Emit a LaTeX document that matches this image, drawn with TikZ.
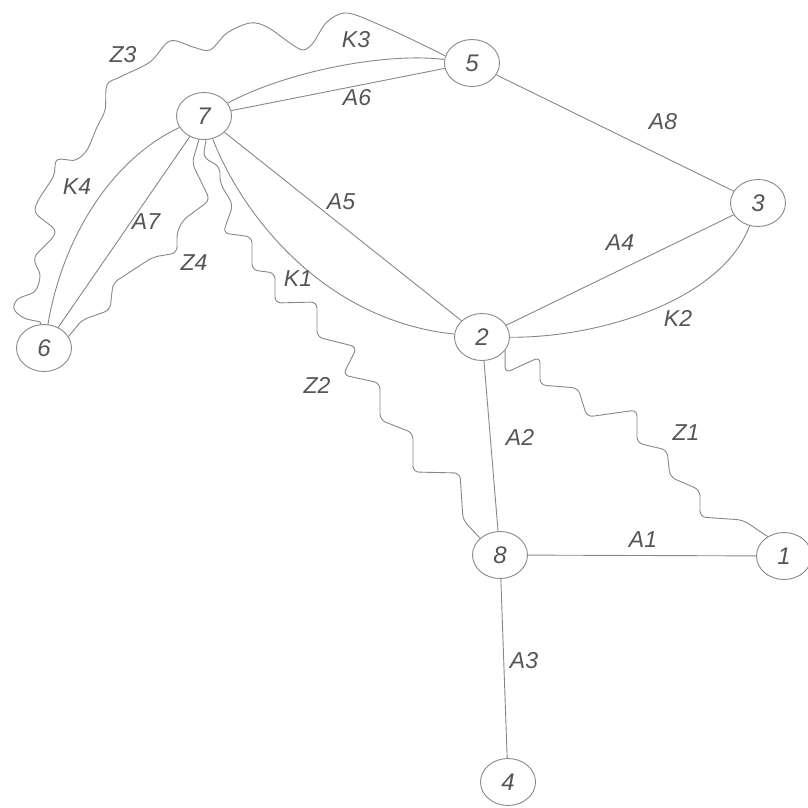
\documentclass[tikz,border=0pt]{standalone}
\usepackage{fontspec}
\setmainfont{Liberation Sans}
\usetikzlibrary{shapes.geometric}
\definecolor{ink}{RGB}{135,135,135}
\definecolor{txt}{RGB}{85,85,85}
\begin{document}
\begin{tikzpicture}[x=1pt,y=-1pt,
  vert/.style={draw=ink,line width=0.9pt,ellipse,minimum width=55pt,minimum height=47pt,inner sep=0pt,
    font=\fontsize{24}{24}\selectfont\itshape,text=txt},
  lbl/.style={font=\fontsize{23}{23}\selectfont\itshape,text=txt,inner sep=0pt},
  wire/.style={draw=ink,line width=0.9pt},
  zig/.style={wire,rounded corners=6pt}]
\useasboundingbox (0,0) rectangle (807,808);

% vertices
\node[vert] (n1) at (784,556) {1};
\node[vert] (n2) at (482,337) {2};
\node[vert] (n3) at (758,203) {3};
\node[vert] (n4) at (508,782) {4};
\node[vert] (n5) at (472,63) {5};
\node[vert] (n6) at (44,348) {6};
\node[vert] (n7) at (204,116) {7};
\node[vert] (n8) at (500,555) {8};

% straight branches
\draw[wire] (n8) -- (n1);
\draw[wire] (n2) -- (n8);
\draw[wire] (n8) -- (n4);
\draw[wire] (n2) -- (n3);
\draw[wire] (n7) -- (n2);
\draw[wire] (n7) -- (n5);
\draw[wire] (n7) -- (n6);
\draw[wire] (n5) -- (n3);

% curved branches
\draw[wire] (n7) .. controls (285,72) and (385,52) .. (n5);
\draw[wire] (n7) .. controls (110,160) and (62,240) .. (n6);
\draw[wire] (n7) .. controls (240,210) and (320,320) .. (n2);
\draw[wire] (n2) .. controls (600,338) and (722,300) .. (n3);

% wavy branches
\draw[zig] (n2.330) -- (505,373) -- (540,357) -- (540,385) -- (578,388) -- (587,417)
  -- (637,410) -- (637,443) -- (667,450) -- (670,477) -- (700,490) -- (700,517)
  -- (743,520) -- (n1.130);
\draw[zig] (n7.275) -- (203,157) -- (220,167) -- (220,183) -- (233,205) -- (223,233)
  -- (252,237) -- (252,270) -- (275,273) -- (275,303) -- (317,302) -- (317,337)
  -- (357,347) -- (343,375) -- (380,383) -- (380,420) -- (413,433) -- (413,472)
  -- (460,473) -- (463,520) -- (n8.140);
\draw[zig] (n7.258) -- (192,163) -- (210,200) -- (183,220) -- (177,232) -- (177,253)
  -- (153,257) -- (113,283) -- (110,310) -- (82,320) -- (n6.25);
\draw[wire] plot[smooth,tension=0.55] coordinates {(n5.165) (413,40) (380,25) (347,13)
  (327,22) (313,43) (303,50) (290,43) (267,27) (250,23) (227,33) (210,50) (193,47)
  (170,41) (150,62) (120,77) (107,85) (105,110) (97,127) (87,150) (75,160) (57,160)
  (53,177) (35,210) (55,232) (35,257) (40,275) (35,291) (18,299) (14,309) (24,318)
  (40,322) (n6.100)};

% branch labels
\node[lbl] (lA1) at (643,540) {A1};
\node[lbl] (lA2) at (520,437) {A2};
\node[lbl] (lA3) at (524,661) {A3};
\node[lbl] (lA4) at (620,243) {A4};
\node[lbl] (lA5) at (341,202) {A5};
\node[lbl] (lA6) at (357,98) {A6};
\node[lbl] (lA7) at (146,222) {A7};
\node[lbl] (lA8) at (663,122) {A8};
\node[lbl] (lK1) at (298,279) {K1};
\node[lbl] (lK2) at (678,318) {K2};
\node[lbl] (lK3) at (356,40) {K3};
\node[lbl] (lK4) at (77,187) {K4};
\node[lbl] (lZ1) at (686,433) {Z1};
\node[lbl] (lZ2) at (317,385) {Z2};
\node[lbl] (lZ3) at (123,55) {Z3};
\node[lbl] (lZ4) at (194,263) {Z4};
\end{tikzpicture}
\end{document}
